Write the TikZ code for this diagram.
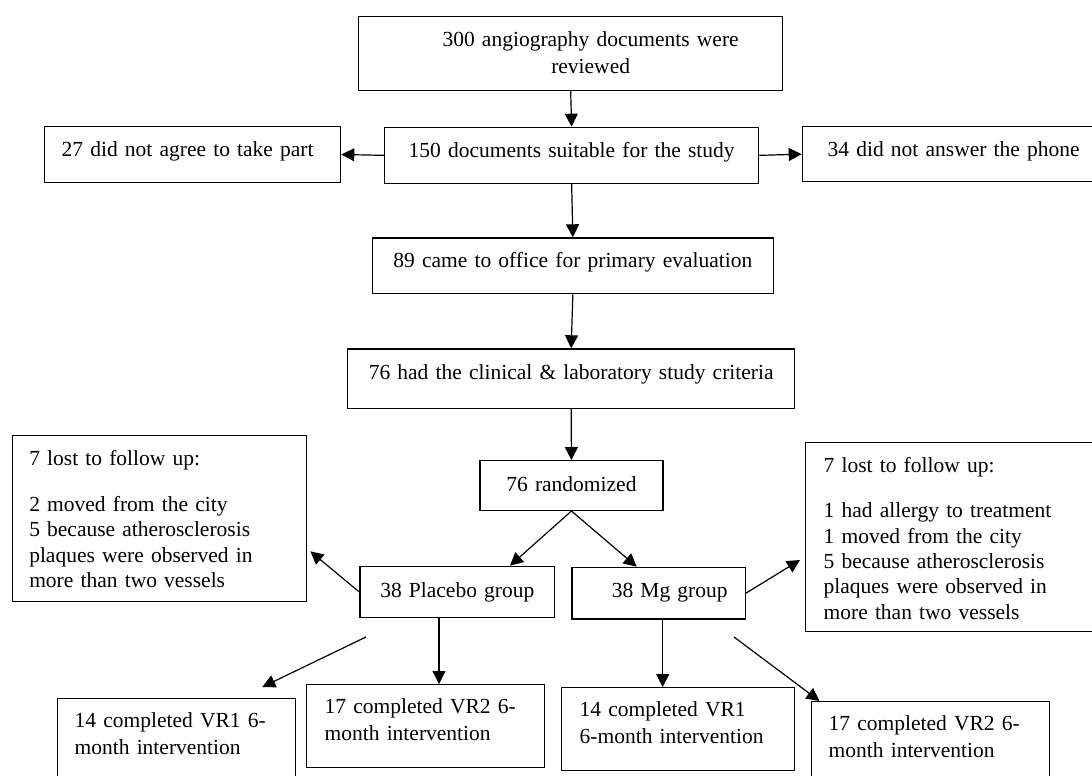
\documentclass[tikz,border=0pt]{standalone}
\usepackage{fontspec}
\setmainfont{Liberation Serif}
\usetikzlibrary{arrows.meta}

\begin{document}
\begin{tikzpicture}
        [x=1pt, y=-1pt,
         box/.style={draw, line width=1.3pt, inner ysep=0, anchor=north west, font=\fontsize{21.5}{27}\selectfont},
         lost/.style={box, align=left, font=\fontsize{21.5}{25.3}\selectfont},
         arr/.style={-{Triangle[length=13pt,width=13pt]}, line width=1.2pt}]

        \useasboundingbox (0,0) rectangle (1092,776);
        \clip (0,0) rectangle (1092,776);

        % top of the chart
        \node[box, align=center, inner xsep=12pt, text width=400pt, text height=29.7pt, text depth=43.8pt] (b300) at (358,16) {\hspace*{40pt}300 angiography documents were\\\hspace*{40pt}reviewed};
        \node[box, align=center, inner xsep=10pt, text width=354pt, text height=30pt, text depth=26pt] (b150) at (384,126.7) {150 documents suitable for the study};
        \node[box, align=left, inner xsep=17.3pt, text width=261.7pt, text height=29.7pt, text depth=26pt] (nag) at (43.7,126) {27 did not agree to take part};
        \node[box, align=left, inner xsep=25.3pt, text width=269.4pt, text height=29.7pt, text depth=25.3pt] (nph) at (801.7,126) {34 did not answer the phone};
        \node[box, align=center, inner xsep=10pt, text width=381pt, text height=29.4pt, text depth=26.3pt] (b89) at (371.7,237.3) {89 came to office for primary evaluation};
        \node[box, align=center, inner xsep=10pt, text width=427pt, text height=30.7pt, text depth=28.7pt] (b76) at (347,348.3) {76 had the clinical \& laboratory study criteria};
        \node[box, align=center, inner xsep=10pt, text width=163pt, text height=30.7pt, text depth=19pt] (rnd) at (479.3,460) {76 randomized};

        % the two groups
        \node[box, align=center, inner xsep=10pt, text width=174.7pt, text height=31pt, text depth=20.3pt] (plc) at (359.3,565.7) {38 Placebo group};
        \node[box, align=right, inner xsep=17.7pt, text width=138pt, text height=30.3pt, text depth=21.3pt] (mg) at (571.3,566.7) {38 Mg group};
        \node[lost, inner xsep=16.6pt, text width=260.8pt, text height=30pt, text depth=136pt] (lostL) at (12,435) {7 lost to follow up:\\[20.7pt]2 moved from the city\\5 because atherosclerosis\\plaques were observed in\\more than two vessels};
        \node[lost, inner xsep=18pt, text width=254pt, text height=29.7pt, text depth=159.3pt] (lostR) at (805,442) {7 lost to follow up:\\[20.3pt]1 had allergy to treatment\\1 moved from the city\\5 because atherosclerosis\\plaques were observed in\\more than two vessels};

        % completed
        \node[box, align=left, inner xsep=17pt, text width=204pt, text height=29pt, text depth=63pt] (c1) at (57,698) {14 completed VR1 6-\\month intervention};
        \node[box, align=left, inner xsep=18pt, text width=202pt, text height=29.3pt, text depth=53.7pt] (c2) at (306,684) {17 completed VR2 6-\\month intervention};
        \node[box, align=left, inner xsep=18pt, text width=197pt, text height=29pt, text depth=54pt] (c3) at (561,687) {14 completed VR1\\6-month intervention};
        \node[box, align=left, inner xsep=17pt, text width=204pt, text height=29pt, text depth=60pt] (c4) at (811,701) {17 completed VR2 6-\\month intervention};

        \draw[arr] (b300.south) -- (b150.north);
        \draw[arr] (b150.west) -- (nag.east);
        \draw[arr] (b150.east) -- (nph.west);
        \draw[arr] (b150.south) -- (b89.north);
        \draw[arr] (b89.south) -- (b76.north);
        \draw[arr] (b76.south) -- (rnd.north);
        \draw[arr] (rnd.south) -- ([xshift=150.7pt]plc.north west);
        \draw[arr] (rnd.south) -- ([xshift=65.4pt]mg.north west);
        \draw[arr] (plc.west) -- ([shift={(3,-51)}]lostL.south east);
        \draw[arr] (mg.east) -- ([shift={(-5,118)}]lostR.north west);

        \coordinate (plcS) at ([xshift=79.7pt]plc.south west);
        \draw[arr] (plcS) -- (plcS |- c2.north);
        \draw[arr] ([xshift=4pt]mg.south) -- ([xshift=4pt]mg.south |- c3.north);
        \coordinate (plcD) at (366,637);
        \draw[arr] (plcD) -- ([shift={(-34,-11)}]c1.north east);
        \coordinate (mgD) at (734,637);
        \draw[arr] (mgD) -- ([shift={(8.5,0)}]c4.north west);

      \end{tikzpicture}
\end{document}
